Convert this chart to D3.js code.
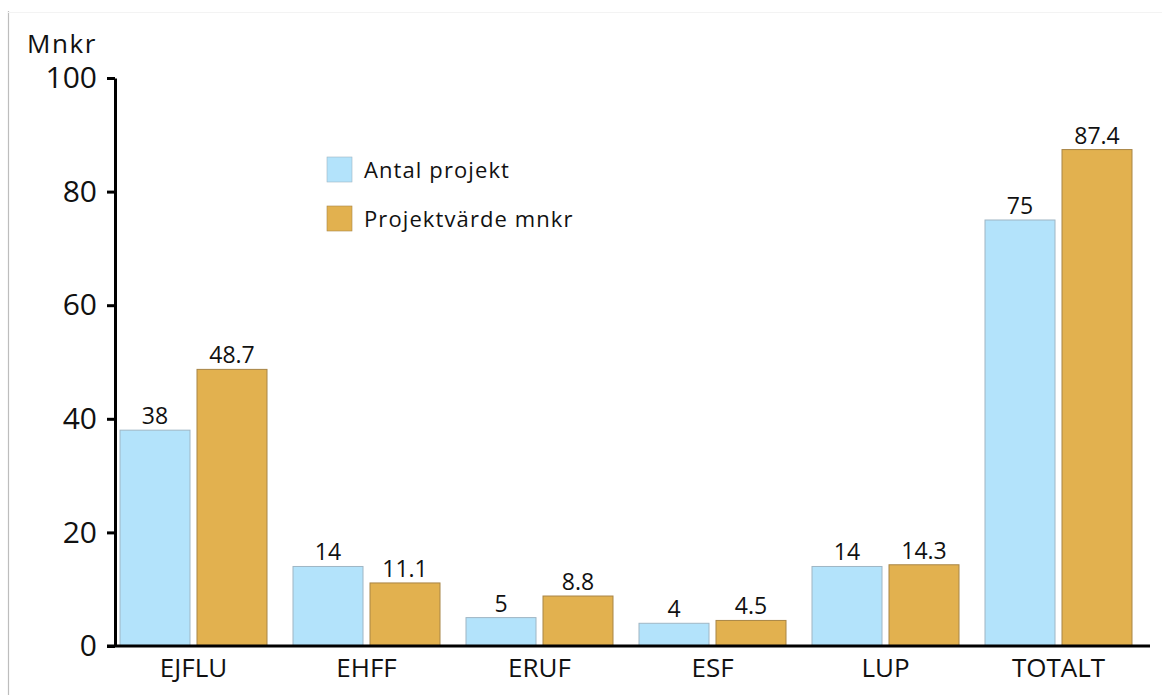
<!DOCTYPE html>
<html>
<head>
<meta charset="utf-8">
<script src="https://cdn.jsdelivr.net/npm/d3@7"></script>
<style>
  html, body { margin: 0; padding: 0; background: #fff; }
  svg { display: block; font-family: "Open Sans", "Noto Sans", sans-serif; }
</style>
</head>
<body>
<div id="chart"></div>
<script>
// chart data
const categories = ['EJFLU', 'EHFF', 'ERUF', 'ESF', 'LUP', 'TOTALT'];
const seriesNames = ['Antal projekt', 'Projektvärde mnkr'];
const antalProjekt = [38, 14, 5, 4, 14, 75];
const projektvarde = [48.7, 11.1, 8.8, 4.5, 14.3, 87.4];
const yTicks = [0, 20, 40, 60, 80, 100];

const W = 1162, H = 695;
const colors = { 'Antal projekt': '#b3e3fb', 'Projektvärde mnkr': '#e2b14f' };
const strokes = { 'Antal projekt': '#9fb6c4', 'Projektvärde mnkr': '#a88546' };

const svg = d3.select('#chart').append('svg').attr('width', W).attr('height', H);

// faint frame from the original screenshot
svg.append('line').attr('x1', 8.5).attr('x2', 8.5).attr('y1', 11).attr('y2', H).attr('stroke', '#bdbdbd').attr('stroke-width', 1.2);
svg.append('line').attr('x1', 8).attr('x2', W).attr('y1', 12.5).attr('y2', 12.5).attr('stroke', '#f3f3f3').attr('stroke-width', 1);

const y = d3.scaleLinear().domain([0, 100]).range([646, 78]);
const x = d3.scaleBand().domain(categories).range([120, 1132]).paddingInner(26 / 173).paddingOuter(0);
const xs = d3.scaleBand().domain(seriesNames).range([0, x.bandwidth()]).paddingInner(7 / 77);

const rows = categories.map((c, i) => ({ cat: c, vals: [
  { s: seriesNames[0], v: antalProjekt[i] },
  { s: seriesNames[1], v: projektvarde[i] }
]}));

// bars
const g = svg.append('g').selectAll('g').data(rows).join('g')
  .attr('transform', d => `translate(${x(d.cat)},0)`);
g.selectAll('rect').data(d => d.vals).join('rect')
  .attr('x', d => xs(d.s)).attr('width', xs.bandwidth())
  .attr('y', d => y(d.v)).attr('height', d => y(0) - y(d.v))
  .attr('fill', d => colors[d.s]).attr('stroke', d => strokes[d.s]).attr('stroke-width', 1);
g.selectAll('text').data(d => d.vals).join('text')
  .attr('x', d => xs(d.s) + xs.bandwidth() / 2).attr('y', d => y(d.v) - 6)
  .attr('text-anchor', 'middle').attr('font-size', 23).attr('fill', '#111')
  .text(d => d.v);

// y axis
const yAxis = svg.append('g').attr('transform', 'translate(115,0)')
  .call(d3.axisLeft(y).tickValues(yTicks).tickSize(8).tickPadding(10).tickSizeOuter(0));
yAxis.select('.domain').attr('stroke', '#000').attr('stroke-width', 3);
yAxis.selectAll('.tick line').attr('stroke', '#000').attr('stroke-width', 3);
yAxis.selectAll('.tick text').attr('font-size', 30).attr('fill', '#111').attr('font-family', '"Open Sans", sans-serif');

// x axis
svg.append('line').attr('x1', 107).attr('x2', 1150).attr('y1', y(0)).attr('y2', y(0)).attr('stroke', '#000').attr('stroke-width', 3);
svg.append('g').selectAll('text').data(categories).join('text')
  .attr('x', d => x(d) + x.bandwidth() / 2).attr('y', 677)
  .attr('text-anchor', 'middle').attr('font-size', 26).attr('fill', '#111')
  .text(d => d);

// unit label (nudged up a little so it clears the "100" tick label)
svg.append('text').attr('x', 27).attr('y', 53).attr('font-size', 26).attr('letter-spacing', 1.6).attr('fill', '#111').text('Mnkr');

// legend
const lg = svg.append('g').selectAll('g').data(seriesNames).join('g')
  .attr('transform', (d, i) => `translate(327,${157 + i * 49})`);
lg.append('rect').attr('width', 25).attr('height', 25)
  .attr('fill', d => colors[d]).attr('stroke', d => strokes[d]).attr('stroke-width', 0.6);
lg.append('text').attr('x', 37).attr('y', 21).attr('font-size', 22).attr('letter-spacing', 1.1).attr('fill', '#111').text(d => d);
</script>
</body>
</html>
